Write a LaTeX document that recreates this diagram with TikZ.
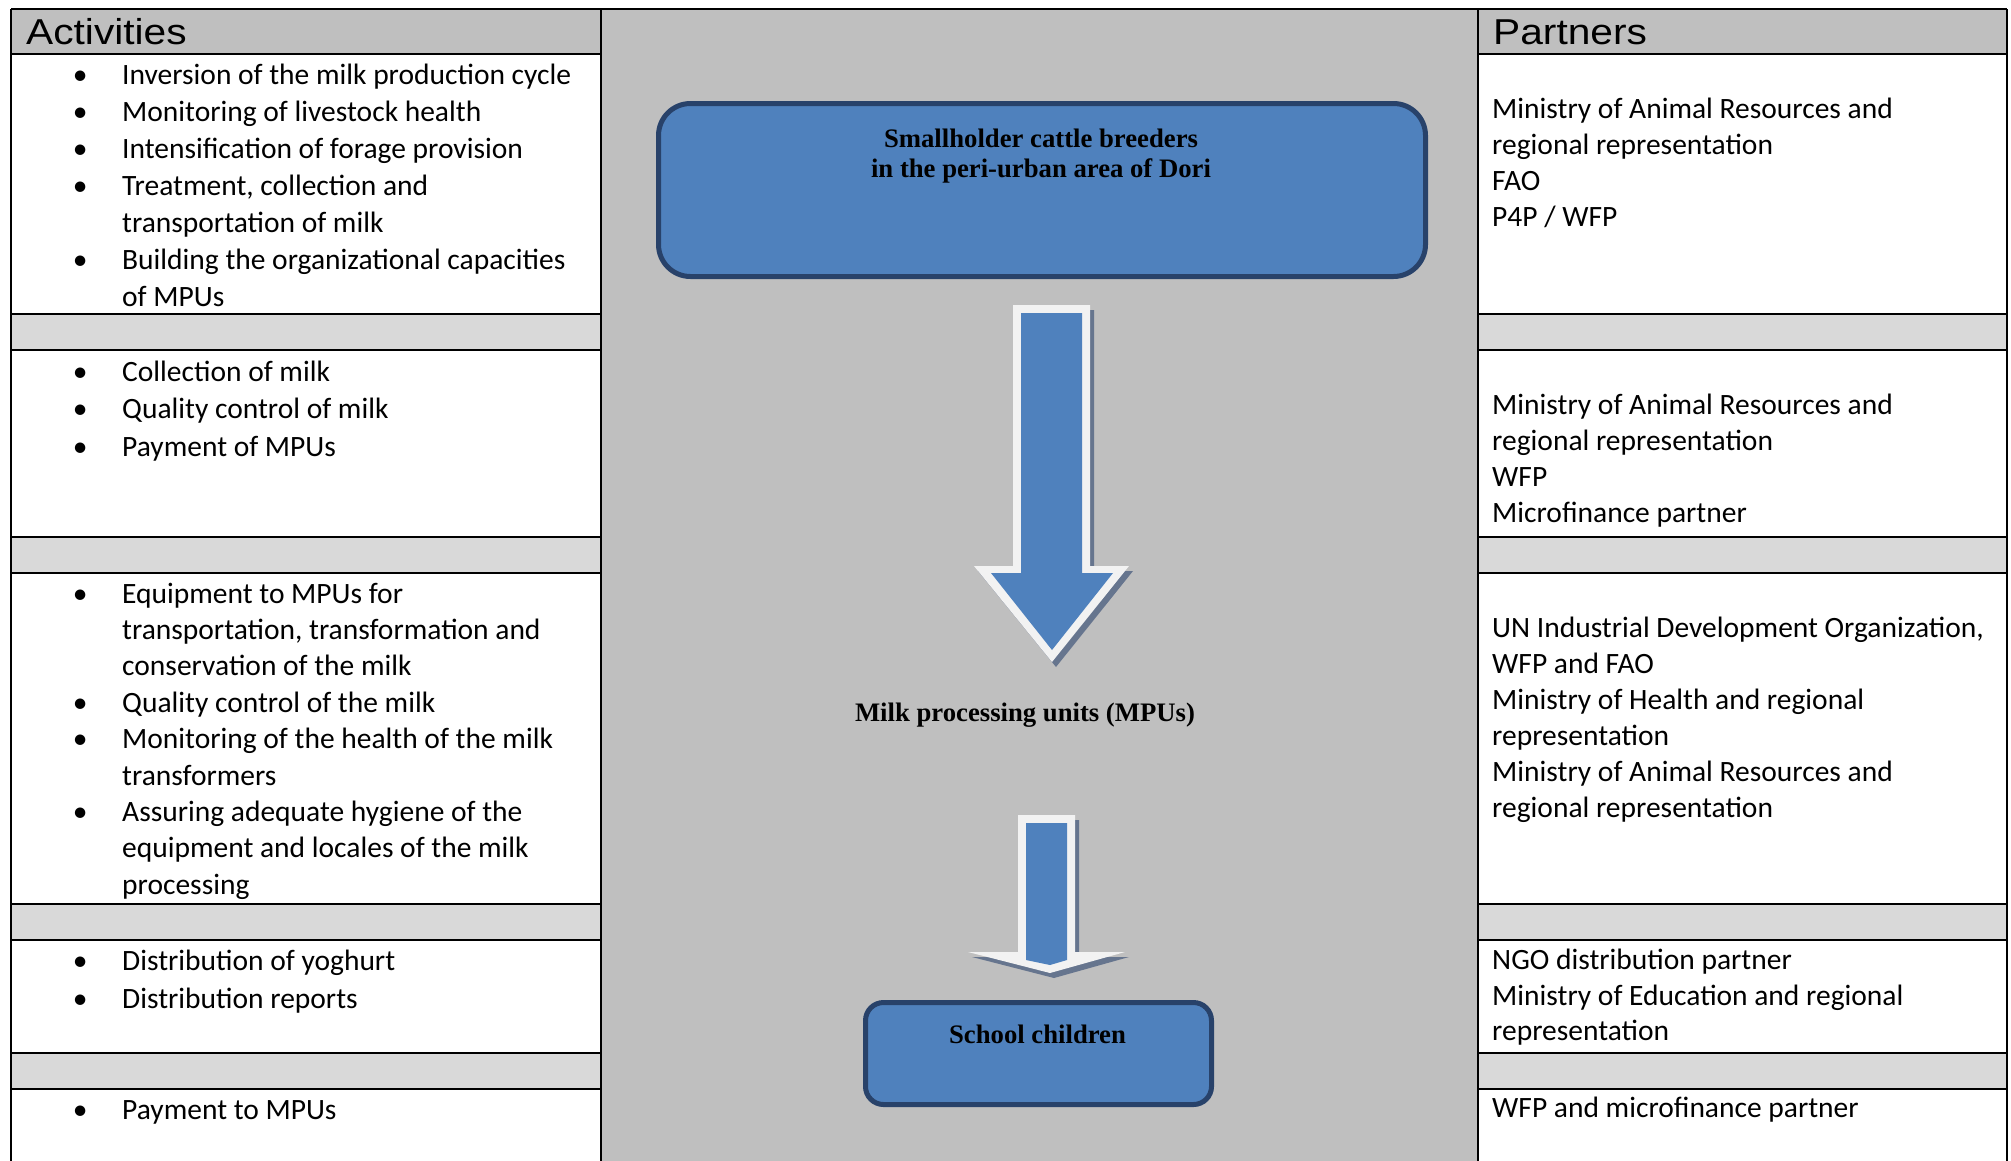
\documentclass[tikz,border=0pt]{standalone}
\usepackage{fontspec}
\usepackage{array}
\setmainfont{Carlito}
\newfontfamily\hdrfont[FakeStretch=1.13]{Liberation Sans}
\newfontfamily\tnrfont{Liberation Serif}
\newcommand\bodyA{\fontsize{29.5}{37}\selectfont}
\newcommand\bodyAb{\fontsize{29.5}{37.5}\selectfont}
\newcommand\bodyAc{\fontsize{29.5}{36.4}\selectfont}
\newcommand\bodyAd{\fontsize{29.5}{38}\selectfont}
\newcommand\bodyB{\fontsize{29.5}{36}\selectfont}
\newcommand\bodyC{\fontsize{29.5}{35.9}\selectfont}
\newcommand\bodyD{\fontsize{29.5}{35.5}\selectfont}
\newcommand\bul{\makebox[14pt]{\textbullet}}
\definecolor{midgray}{HTML}{BFBFBF}
\definecolor{bandgray}{HTML}{D9D9D9}
\definecolor{boxblue}{HTML}{4F81BD}
\definecolor{boxedge}{HTML}{28426A}
\definecolor{arrowshadow}{HTML}{66758E}
\definecolor{arrowwhite}{HTML}{F2F2F2}
\tikzset{
  cell/.style={inner sep=0pt, anchor=base west, font=\bodyA},
  hdr/.style={inner sep=0pt, anchor=base west, font=\hdrfont\fontsize{36}{40}\selectfont},
  bluebox/.style={draw=boxedge, line width=5pt, fill=boxblue, inner sep=0pt},
  serifbold/.style={inner sep=0pt, anchor=base, font=\tnrfont\bfseries\fontsize{26.7}{30.5}\selectfont},
  gridline/.style={line width=2.6pt, black},
}
\begin{document}
\begin{tikzpicture}[x=1pt,y=-1pt]
\useasboundingbox (0,0) rectangle (2011,1160);
\clip (0,0) rectangle (2011,1160);
\fill[white] (0,0) rectangle (2011,1160);
% middle gray column
\fill[midgray] (601,9) rectangle (1478,1170);
% headers
\fill[midgray] (11,9) rectangle (601,54);
\fill[midgray] (1478,9) rectangle (2007,54);
% bands
\foreach \ya/\yb in {314/350, 537/573, 904/940, 1053/1089}{
  \fill[bandgray] (11,\ya) rectangle (601,\yb);
  \fill[bandgray] (1478,\ya) rectangle (2007,\yb);
}
% grid lines
\draw[gridline] (11,9) -- (2007,9);
\draw[gridline] (11,9) -- (11,1170);
\draw[gridline] (601,9) -- (601,1170);
\draw[gridline] (1478,9) -- (1478,1170);
\draw[gridline] (2007,9) -- (2007,1170);
\foreach \y in {54,314,350,537,573,904,940,1053,1089}{
  \draw[gridline] (11,\y) -- (601,\y);
  \draw[gridline] (1478,\y) -- (2007,\y);
}
% headers text
\node[hdr] (acth) at (26,44) {Activities};
\node[hdr] (parth) at (1493,44) {Partners};

% left column cells
\node[cell] (a1) at (73,84) {\begin{tabular}[t]{@{}p{49pt}@{}l@{}}
\bul & Inversion of the milk production cycle\\
\bul & Monitoring of livestock health\\
\bul & Intensification of forage provision\\
\bul & Treatment, collection and\\
 & transportation of milk\\
\bul & Building the organizational capacities\\
 & of MPUs
\end{tabular}};
\node[cell, font=\bodyAb] (a2) at (73,381) {\begin{tabular}[t]{@{}p{49pt}@{}l@{}}
\bul & Collection of milk\\
\bul & Quality control of milk\\
\bul & Payment of MPUs
\end{tabular}};
\node[cell, font=\bodyAc] (a3) at (73,603) {\begin{tabular}[t]{@{}p{49pt}@{}l@{}}
\bul & Equipment to MPUs for\\
 & transportation, transformation and\\
 & conservation of the milk\\
\bul & Quality control of the milk\\
\bul & Monitoring of the health of the milk\\
 & transformers\\
\bul & Assuring adequate hygiene of the\\
 & equipment and locales of the milk\\
 & processing
\end{tabular}};
\node[cell, font=\bodyAd] (a4) at (73,970) {\begin{tabular}[t]{@{}p{49pt}@{}l@{}}
\bul & Distribution of yoghurt\\
\bul & Distribution reports
\end{tabular}};
\node[cell] (a5) at (73,1119) {\begin{tabular}[t]{@{}p{49pt}@{}l@{}}
\bul & Payment to MPUs
\end{tabular}};

% right column cells
\node[cell, font=\bodyB] (p1) at (1492,118.5) {\begin{tabular}[t]{@{}l@{}}
Ministry of Animal Resources and\\
regional representation\\
FAO\\
P4P / WFP
\end{tabular}};
\node[cell, font=\bodyB] (p2) at (1492,414.5) {\begin{tabular}[t]{@{}l@{}}
Ministry of Animal Resources and\\
regional representation\\
WFP\\
Microfinance partner
\end{tabular}};
\node[cell, font=\bodyC] (p3) at (1492,637.5) {\begin{tabular}[t]{@{}l@{}}
UN Industrial Development Organization,\\
WFP and FAO\\
Ministry of Health and regional\\
representation\\
Ministry of Animal Resources and\\
regional representation
\end{tabular}};
\node[cell, font=\bodyD] (p4) at (1492,969.5) {\begin{tabular}[t]{@{}l@{}}
NGO distribution partner\\
Ministry of Education and regional\\
representation
\end{tabular}};
\node[cell, font=\bodyD] (p5) at (1492,1117) {WFP and microfinance partner};

% middle flow
\node[bluebox, rounded corners=32pt, minimum width=767pt, minimum height=173pt] (breeders) at (1042,190) {};
\node[serifbold] (breederstext) at (1041,147) {\begin{tabular}[t]{@{}c@{}}Smallholder cattle breeders\\in the peri-urban area of Dori\end{tabular}};

% arrow 1
\fill[arrowshadow] (1017,310) -- (1094,310) -- (1094,571) -- (1133,571) -- (1056,667) -- (978,571) -- (1017,571) -- cycle;
\fill[arrowwhite] (1013,305) -- (1090,305) -- (1090,566) -- (1129,566) -- (1052,662) -- (974,566) -- (1013,566) -- cycle;
\fill[boxblue] (1021,313) -- (1082,313) -- (1082,573) -- (1113,573) -- (1052,650) -- (991,573) -- (1021,573) -- cycle;

\node[serifbold] (mpus) at (1025,721) {Milk processing units (MPUs)};

% arrow 2
\fill[arrowshadow] (1022,820) -- (1079,820) -- (1079,957) -- (1129,957) -- (1054,978) -- (972,957) -- (1022,957) -- cycle;
\fill[arrowwhite] (1018,815) -- (1075,815) -- (1075,952) -- (1125,952) -- (1050,973) -- (968,952) -- (1018,952) -- cycle;
\fill[boxblue] (1026,823) -- (1067,823) -- (1067,960) -- (1050,965) -- (1026,960) -- cycle;

\node[bluebox, rounded corners=18pt, minimum width=346pt, minimum height=102pt] (school) at (1038.5,1053.5) {};
\node[serifbold] (schooltext) at (1037.5,1043) {School children};
\end{tikzpicture}
\end{document}
